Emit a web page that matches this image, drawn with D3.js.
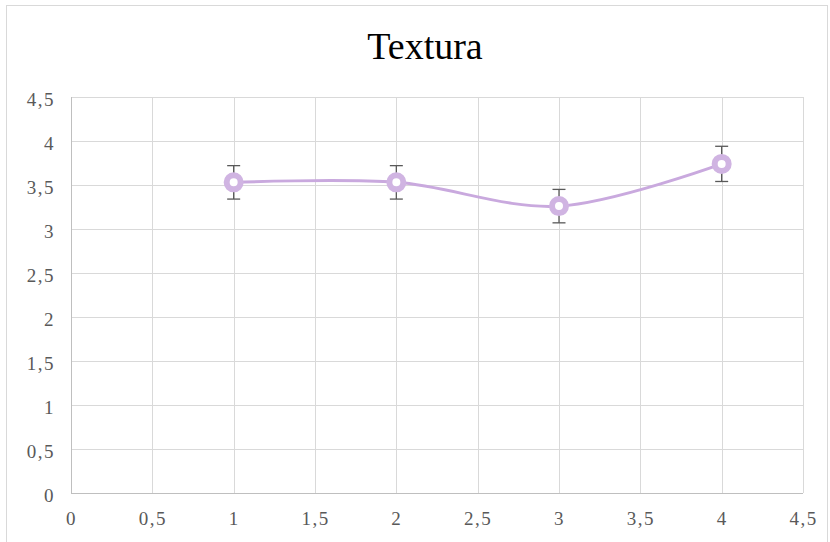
<!DOCTYPE html>
<html><head><meta charset="utf-8">
<script src="https://cdn.jsdelivr.net/npm/d3@7"></script>
<style>body{margin:0;background:#fff}svg{display:block}
.tick text{font-family:"Liberation Serif","Times New Roman",serif;font-size:19px;fill:#595959;letter-spacing:1.5px}</style>
</head><body>
<svg id="c" width="830" height="542"></svg>
<script>
const title = "Textura";
const xValues = [1, 2, 3, 4];
const yValues = [3.53, 3.53, 3.26, 3.74];
const errValues = [0.19, 0.19, 0.19, 0.2];
const xTicks = [0, 0.5, 1, 1.5, 2, 2.5, 3, 3.5, 4, 4.5];
const yTicks = [0, 0.5, 1, 1.5, 2, 2.5, 3, 3.5, 4, 4.5];

const svg = d3.select("#c");
const W = 830, H = 542;
const m = {l: 71, r: 27, t: 97, b: 49};
svg.append("rect").attr("x", 6.5).attr("y", 5.5).attr("width", 821).attr("height", 560)
  .attr("fill", "#fff").attr("stroke", "#d9d9d9");

const x = d3.scaleLinear().domain([0, 4.5]).range([m.l, W - m.r]);
const y = d3.scaleLinear().domain([0, 4.5]).range([H - m.b, m.t]);
const fmt = d => String(d).replace(".", ",");

const g = svg.append("g");
g.selectAll(".gx").data(xTicks).join("line")
  .attr("x1", d => Math.round(x(d)) + 0.5).attr("x2", d => Math.round(x(d)) + 0.5)
  .attr("y1", y(4.5)).attr("y2", y(0)).attr("stroke", "#d9d9d9").attr("stroke-width", 1);
g.selectAll(".gy").data(yTicks).join("line")
  .attr("y1", d => Math.round(y(d)) + 0.5).attr("y2", d => Math.round(y(d)) + 0.5)
  .attr("x1", x(0)).attr("x2", x(4.5)).attr("stroke", "#d9d9d9").attr("stroke-width", 1);
g.append("line").attr("x1", x(0)).attr("x2", x(4.5)).attr("y1", Math.round(y(0)) + 0.5).attr("y2", Math.round(y(0)) + 0.5)
  .attr("stroke", "#bfbfbf");
g.append("line").attr("x1", Math.round(x(0)) + 0.5).attr("x2", Math.round(x(0)) + 0.5).attr("y1", y(4.5)).attr("y2", y(0))
  .attr("stroke", "#bfbfbf");

const xa = d3.axisBottom(x).tickValues(xTicks).tickFormat(fmt).tickSize(0).tickPadding(19);
const ya = d3.axisLeft(y).tickValues(yTicks).tickFormat(fmt).tickSize(0).tickPadding(16);
const gx = svg.append("g").attr("transform", `translate(0,${y(0)})`).call(xa);
const gy = svg.append("g").attr("transform", `translate(${x(0)},0)`).call(ya);
[gx, gy].forEach(a => {
  a.attr("font-family", null).attr("font-size", null);
  a.select(".domain").remove();
});
gy.selectAll("text").attr("dy", "0.45em");

svg.append("text").attr("x", 425).attr("y", 59).attr("text-anchor", "middle")
  .style("font-family", "'Liberation Serif', 'Times New Roman', serif").style("font-size", "38px")
  .attr("fill", "#000").text(title);

const pts = xValues.map((v, i) => ({x: v, y: yValues[i], e: errValues[i]}));
const line = d3.line().x(d => x(d.x)).y(d => y(d.y)).curve(d3.curveCardinal.tension(0));
svg.append("path").datum(pts).attr("d", line).attr("fill", "none")
  .attr("stroke", "#c9a9de").attr("stroke-width", 3);

const eb = svg.append("g").attr("stroke", "#595959").attr("stroke-width", 1.3);
pts.forEach(d => {
  eb.append("line").attr("x1", x(d.x)).attr("x2", x(d.x)).attr("y1", y(d.y + d.e)).attr("y2", y(d.y - d.e));
  [d.y + d.e, d.y - d.e].forEach(v => eb.append("line").attr("x1", x(d.x) - 6.5).attr("x2", x(d.x) + 6.5)
    .attr("y1", y(v)).attr("y2", y(v)));
});

svg.append("g").selectAll("circle").data(pts).join("circle")
  .attr("cx", d => x(d.x)).attr("cy", d => y(d.y)).attr("r", 7)
  .attr("fill", "#fff").attr("stroke", "#d0b4e2").attr("stroke-width", 6);
</script>
</body></html>
